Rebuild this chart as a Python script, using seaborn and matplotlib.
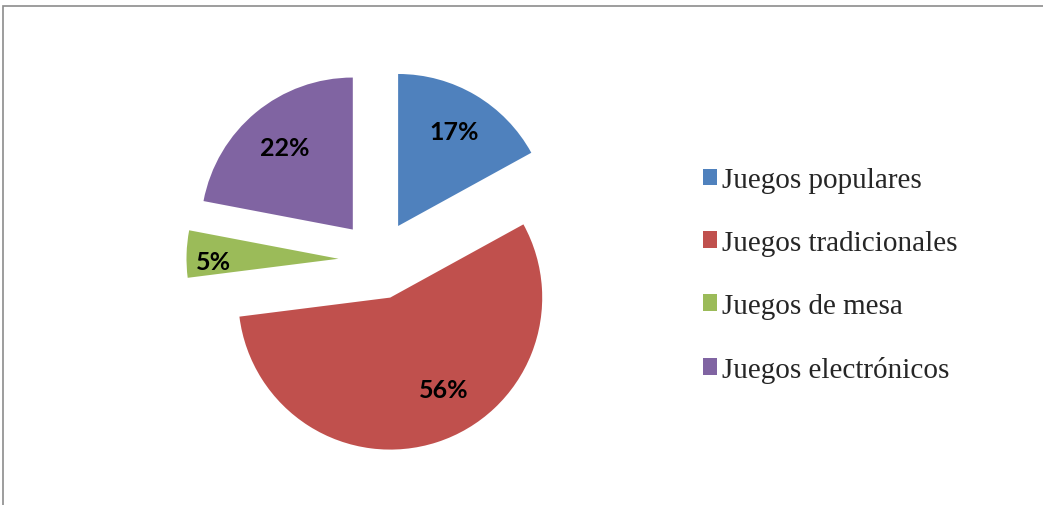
import numpy as np
import matplotlib.pyplot as plt
import seaborn as sns
from matplotlib.patches import Rectangle

categorias = ['Juegos populares', 'Juegos tradicionales', 'Juegos de mesa', 'Juegos electrónicos']
porcentajes = [17, 56, 5, 22]
colores = ['#4F81BD', '#C0504D', '#9BBB59', '#8064A2']

sns.set_theme(style='white')

W, H = 1043, 506
fig = plt.figure(figsize=(W / 100, H / 100), dpi=100)
ax = fig.add_axes([0, 0, 1, 1])

exp = 0.26
wedges, _ = ax.pie(porcentajes, colors=colores, startangle=90, counterclock=False,
                   explode=[exp] * len(porcentajes), radius=1.0,
                   wedgeprops=dict(linewidth=0))

# etiquetas de porcentaje (posición "mejor ajuste" aproximada de Excel)
dist = [0.72, 0.70, 0.82, 0.70]
giro = [0, 12, 3, 0]
for w, p, d, g in zip(wedges, porcentajes, dist, giro):
    mid = np.deg2rad((w.theta1 + w.theta2) / 2)
    ang = mid + np.deg2rad(g)
    x = exp * np.cos(mid) + d * np.cos(ang)
    y = exp * np.sin(mid) + d * np.sin(ang)
    ax.text(x, y, f'{p}%', ha='center', va='center',
            fontsize=18, fontweight='bold', family=['Lato', 'DejaVu Sans'], color='black')

# centro del pastel en (378, 261) px, radio 152 px
R, cx, cy = 152, 378, 261
ax.set_xlim(-cx / R, (W - cx) / R)
ax.set_ylim(-(H - cy) / R, cy / R)
ax.set_axis_off()

fig.legend(wedges, categorias, loc='center left', bbox_to_anchor=(688 / W, 1 - 276 / H),
           frameon=False, borderpad=0, handlelength=0.5, handleheight=0.5,
           handletextpad=0.15, labelspacing=1.26,
           prop=dict(family=['Liberation Serif', 'DejaVu Serif'], size=21))

# borde gris del área del gráfico
fig.patches.append(Rectangle((3 / W, -0.1), 1.2, 1 - 7 / H + 0.1, transform=fig.transFigure,
                             fill=False, edgecolor='#8C8C8C', linewidth=1.2))

fig.savefig('out.png', dpi=100, facecolor='white')
